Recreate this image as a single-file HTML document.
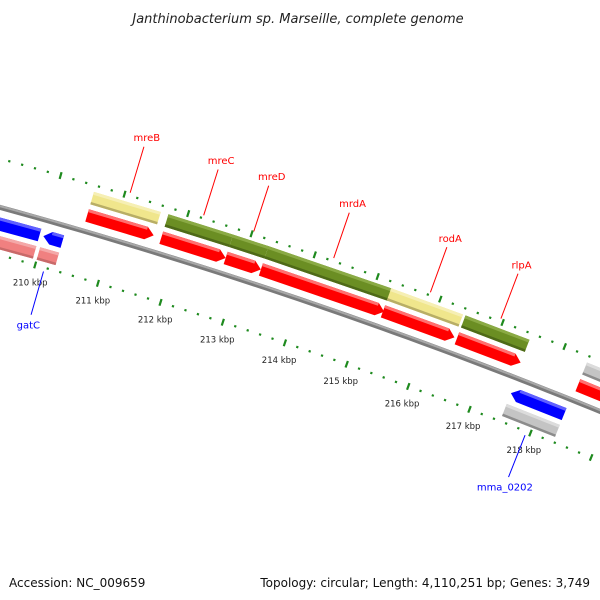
<!DOCTYPE html>
<html><head><meta charset="utf-8"><style>
html,body{margin:0;padding:0;background:#fff;}
svg{display:block;font-family:"DejaVu Sans","Liberation Sans",sans-serif;}
</style></head><body>
<svg id="map" width="600" height="600" viewBox="0 0 600 600" xmlns="http://www.w3.org/2000/svg">
<rect width="600" height="600" fill="#fff"/>
<text x="298" y="23" text-anchor="middle" font-size="13" font-style="italic" fill="#222">Janthinobacterium sp. Marseille, complete genome</text>
<g id="rings"></g><g id="genes"></g><g id="labels"></g>
<text x="9" y="587" font-size="12" fill="#111">Accession: NC_009659</text>
<text x="590" y="587" text-anchor="end" font-size="12" fill="#111">Topology: circular; Length: 4,110,251 bp; Genes: 3,749</text>
</svg>
<script>
// data
const tickKbp = [210,211,212,213,214,215,216,217,218];
const tickLabels = ["210 kbp","211 kbp","212 kbp","213 kbp","214 kbp","215 kbp","216 kbp","217 kbp","218 kbp"];
const geneNames = ["gatC-a","gatC","mreB","mreC","mreD","mrdA","rodA","rlpA","mma_0202","next-gene"];
const geneStart = [208.3,210.0,210.55,211.72,212.74,213.3,215.25,216.44,217.5,218.4];
const geneEnd   = [209.94,210.3,211.6,212.74,213.3,215.27,216.4,217.47,218.37,219.8];
const geneStrand= [-1,-1,1,1,1,1,1,1,-1,1];
const geneKind  = ["pink","pink","khaki","olive","olive","olive","khaki","olive","gray","gray"];
const geneLabelShown = [false,true,true,true,true,true,true,true,true,false];

// geometry
const SVGNS="http://www.w3.org/2000/svg";
const CX=-1405, CY=5324, R=5306, ROUT=5353, RIN=5260;
const A0=-74.11, DEG_PER_KBP=0.7125;
function ang(k){return (A0+(k-210)*DEG_PER_KBP)*Math.PI/180;}
function pt(k,r){const a=ang(k);return [CX+r*Math.cos(a), CY+r*Math.sin(a)];}
function mk(tag,attrs,parent){const e=document.createElementNS(SVGNS,tag);for(const k in attrs)e.setAttribute(k,attrs[k]);parent.appendChild(e);return e;}
function poly(pts){return pts.map(p=>p[0].toFixed(2)+","+p[1].toFixed(2)).join(" ");}
function band(k1,k2,r1,r2,arrow,dir){
  const a=0.12;const pts=[];
  const rm=(r1+r2)/2;
  if(arrow&&dir>0){pts.push(pt(k1,r2),pt(k2-a,r2),pt(k2,rm),pt(k2-a,r1),pt(k1,r1));}
  else if(arrow&&dir<0){pts.push(pt(k1+a,r2),pt(k2,r2),pt(k2,r1),pt(k1+a,r1),pt(k1,rm));}
  else pts.push(pt(k1,r2),pt(k2,r2),pt(k2,r1),pt(k1,r1));
  return poly(pts);
}
const rings=document.getElementById('rings');
const genesG=document.getElementById('genes');
const labelsG=document.getElementById('labels');

// backbone
let bb=[];for(let k=207;k<=221;k+=0.25)bb.push(pt(k,R));
let e=mk('polyline',{points:poly(bb),fill:'none',stroke:'#7a7a7a','stroke-width':5},rings);


bb=[];for(let k=207;k<=221;k+=0.25)bb.push(pt(k,R+1.2));
e=mk('polyline',{points:poly(bb),fill:'none',stroke:'#a8a8a8','stroke-width':2},rings);



// tick rings
for(let i=0;i<=70;i++){
  const k=207+i*0.2;
  const major=(i%5===0);
  [ROUT,RIN].forEach((rr,j)=>{
    const len=major?7:2.2;
    const p1=pt(k,rr-len/2),p2=pt(k,rr+len/2);
    const t=mk('line',{x1:p1[0],y1:p1[1],x2:p2[0],y2:p2[1],stroke:'#1e8a1e','stroke-width':2.2},rings);
    
    
  });
}
tickKbp.forEach((k,i)=>{
  const p=pt(k,RIN-18);
  const t=mk('text',{x:p[0],y:p[1]+3,'text-anchor':'middle','font-size':8.5,fill:'#222'},rings);
  t.textContent=tickLabels[i];
  
  
});

// genes
const kindCol={pink:['#f08080','#f4a8a8','#c86a6a'],khaki:['#f0e68c','#f6efb4','#b8ae66'],olive:['#6b8e23','#8aaa44','#4e6a18'],gray:['#c4c4c4','#dcdcdc','#8c8c8c']};
geneNames.forEach((n,i)=>{
  const s=geneStrand[i],k1=geneStart[i],k2=geneEnd[i];
  const cdsR=R+s*16, genR=R+s*34, h=6.5;
  const cc=s>0?['#ff0000','#ff7070','#c00000']:['#0000ff','#6060ff','#0000b0'];
  const gc=kindCol[geneKind[i]];
  let g=mk('polygon',{points:band(k1,k2,genR-h,genR+h,false,s),fill:gc[0]},genesG);
  
  
  g=mk('polygon',{points:band(k1,k2,genR+h-3,genR+h,false,s),fill:gc[1]},genesG);
  
  
  g=mk('polygon',{points:band(k1,k2,genR-h,genR-h+2.5,false,s),fill:gc[2]},genesG);
  
  
  g=mk('polygon',{points:band(k1,k2,cdsR-h,cdsR+h,true,s),fill:cc[0]},genesG);
  
  
  g=mk('polygon',{points:band(k1+(s<0?0.12:0),k2-(s>0?0.12:0),cdsR+h-3,cdsR+h,false,s),fill:cc[1]},genesG);
  
  
  if(geneLabelShown[i]){
    const km=(k1+k2)/2;
    const col=s>0?'#ff0000':'#0000ff';
    const ra=s>0?R+50:R-50, rb=s>0?R+98:R-95, rl=s>0?R+108:R-105;
    const p1=pt(km,ra),p2=pt(km,rb),pl=pt(km,rl);
    let l=mk('line',{x1:p1[0],y1:p1[1],x2:p2[0],y2:p2[1],stroke:col,'stroke-width':1},labelsG);
    
    
    let t=mk('text',{x:pl[0],y:pl[1]+4,'text-anchor':'middle','font-size':10,fill:col},labelsG);
    t.textContent=n;
    
    
  }
});
</script>
</body></html>
